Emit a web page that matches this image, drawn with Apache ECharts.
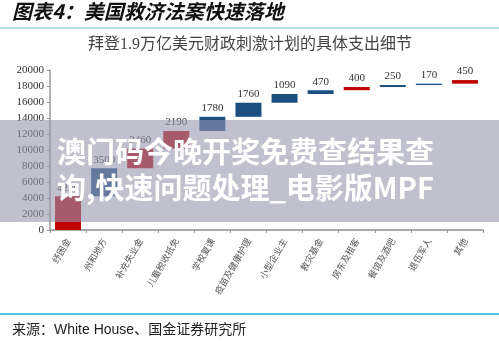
<!DOCTYPE html>
<html>
<head>
<meta charset="utf-8">
<script src="https://cdn.jsdelivr.net/npm/echarts@6/dist/echarts.min.js"></script>
<style>
html,body{margin:0;padding:0;background:#fff;}
#c{width:499px;height:343px;}
</style>
</head>
<body>
<div id="c"></div>
<script>
const categories = ['纾困金','州和地方','补充失业金','儿童税收抵免','学校复课','疫苗及健康护理','小型企业主','救灾基金','房东及租客','餐馆及酒吧','退伍军人','其他'];
const values = [4220, 3500, 2460, 2190, 1780, 1760, 1090, 470, 400, 250, 170, 450];
const barKinds = ['r','b','r','r','b','b','b','b','r','b','b','r'];
const yMin = 0, yMax = 20000, yStep = 2000;

const palette = { r: '#C00000', b: '#1B4F82' };
const bases = [];
let acc = 0;
for (let i = 0; i < values.length; i++) { bases.push(acc); acc += values[i]; }

const chart = echarts.init(document.getElementById('c'), null, {renderer: 'canvas'});
const serif = "'Liberation Serif', 'Noto Sans CJK SC', serif";
const cjk = "'Noto Sans CJK SC', sans-serif";

chart.setOption({
  animation: false,
  backgroundColor: '#ffffff',
  grid: { left: 50, right: 16, top: 70, bottom: 113, containLabel: false },
  xAxis: {
    type: 'category',
    data: categories,
    boundaryGap: true,
    axisLine: { lineStyle: { color: '#AAAAAA', width: 2 } },
    axisTick: { show: true, length: 3, lineStyle: { color: '#999999' } },
    axisLabel: { interval: 0, rotate: 60, fontSize: 9, color: '#555555', fontFamily: cjk, margin: 9 }
  },
  yAxis: {
    type: 'value',
    min: yMin, max: yMax, interval: yStep,
    splitLine: { show: false },
    axisLine: { show: true, lineStyle: { color: '#999999', width: 1.5 } },
    axisTick: { show: true, length: 3, lineStyle: { color: '#999999' } },
    axisLabel: { fontSize: 11, color: '#333333', fontFamily: serif, margin: 6, formatter: v => String(v) }
  },
  series: [
    {
      type: 'bar', stack: 'w', barWidth: '72%',
      itemStyle: { color: 'transparent' },
      emphasis: { disabled: true },
      data: bases
    },
    {
      type: 'bar', stack: 'w', barWidth: '72%',
      data: values.map((v, i) => ({ value: v, itemStyle: { color: palette[barKinds[i]] } })),
      label: { show: true, position: 'top', distance: 3, fontSize: 11, color: '#333333', fontFamily: serif }
    }
  ],
  graphic: [
    { type: 'text', left: 12, top: 1, z: 10,
      style: { text: '图表4：美国救济法案快速落地', font: 'italic bold 20px ' + cjk, fill: '#111111' } },
    { type: 'rect', shape: { x: 0, y: 27, width: 499, height: 2 }, style: { fill: '#B5DDE3' } },
    { type: 'text', x: 250, y: 45, z: 10,
      style: { text: '拜登1.9万亿美元财政刺激计划的具体支出细节', font: '16px ' + serif, fill: '#444444', align: 'center', verticalAlign: 'middle' } },
    { type: 'rect', shape: { x: 0, y: 313, width: 499, height: 2 }, style: { fill: '#4EC4E8' } },
    { type: 'text', x: 12, y: 330, z: 10,
      style: { text: '来源：White House、国金证券研究所', font: "14px 'Liberation Sans', 'Noto Sans CJK SC', sans-serif", fill: '#222222', verticalAlign: 'middle' } },
    { type: 'rect', z: 100, shape: { x: 0, y: 120, width: 499, height: 102 }, style: { fill: 'rgba(150,150,175,0.6)' } },
    { type: 'text', x: 57, y: 152, z: 101,
      style: { text: '澳门码今晚开奖免费查结果查', font: 'bold 29px ' + cjk, fill: '#ffffff', verticalAlign: 'middle' } },
    { type: 'text', x: 57, y: 188, z: 101,
      style: { text: '询,快速问题处理_电影版MPF', font: 'bold 29px ' + cjk, fill: '#ffffff', verticalAlign: 'middle' } }
  ]
});
</script>
</body>
</html>
